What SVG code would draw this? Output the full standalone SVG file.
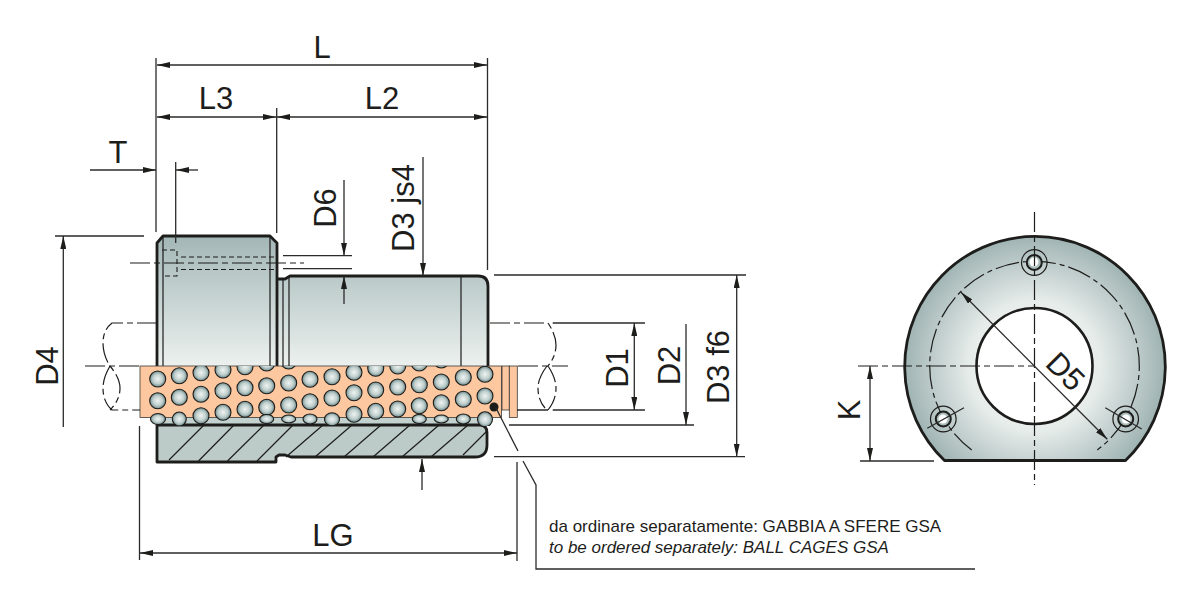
<svg xmlns="http://www.w3.org/2000/svg" width="1200" height="589" viewBox="0 0 1200 589">
<style>
.o{fill:none;stroke:#1d1d1b;stroke-width:2.8;stroke-linejoin:round}
.t{fill:none;stroke:#1d1d1b;stroke-width:1.2}
.d{fill:none;stroke:#2b2b2a;stroke-width:1.3}
.c{fill:none;stroke:#1d1d1b;stroke-width:1.2;stroke-dasharray:20 4 6 4}
.v{fill:none;stroke:#1d1d1b;stroke-width:1.2;stroke-dasharray:24 4 5 4}
.h{fill:none;stroke:#1d1d1b;stroke-width:1.1;stroke-dasharray:5 3}
.b{fill:url(#ball);stroke:#1d1d1b;stroke-width:1.1}
.q{fill:#fdc79f;stroke:#3a3a38;stroke-width:.8}
.r{fill:none;stroke:#1d1d1b;stroke-width:1.2}
.s{fill:none;stroke:#1d1d1b;stroke-width:2}
text{font-family:"Liberation Sans",Arial,sans-serif;fill:#1d1d1b}
.l{font-size:31px}
.n{font-size:17px}
</style>
<defs>
<linearGradient id="body" x1="0" y1="0" x2="0" y2="1"><stop offset="0" stop-color="#a3b7b6"/><stop offset="1" stop-color="#ecf1ef"/></linearGradient>
<radialGradient id="disc" gradientUnits="userSpaceOnUse" cx="1034.500" cy="366" r="131"><stop offset="0" stop-color="#ffffff"/><stop offset="0.5" stop-color="#e6ecea"/><stop offset="1" stop-color="#9fb3b3"/></radialGradient>
<radialGradient id="ball" cx="0.5" cy="0.5" r="0.5"><stop offset="0" stop-color="#f0f4f2"/><stop offset="0.6" stop-color="#bfcfcd"/><stop offset="1" stop-color="#6f8a8b"/></radialGradient>
<clipPath id="cage"><rect x="140" y="366" width="362" height="60"/></clipPath>
<marker id="a" markerWidth="13" markerHeight="6" refX="13" refY="3" orient="auto-start-reverse" markerUnits="userSpaceOnUse"><path d="M0 0L13 3L0 6z" fill="#1d1d1b"/></marker>
</defs>

<g id="bush-body">
<path d="M157 366V243L163 236H270L277 243V279H285L290 276H478Q488 276 488 286V366Z" fill="url(#body)"/>
<path class="o" d="M157 366V243L163 236H270L277 243V366M277 279H285L290 276H478Q488 276 488 286V366"/>
<path class="t" d="M163 236V366M270 236V366M283 279V366M289 277V366M461 276V366"/>
<path class="h" d="M162 250H177V276H162M181 257H276M181 269.500H276"/>
</g>

<g id="flange-base">
<rect x="157" y="417" width="332" height="8" fill="#c3d2cf"/>
<path d="M157 425H480Q487 425 487 433V445Q487 457 475 457H291L285 455H279L276 457V462H157Z" fill="#bccbc8"/>
<path class="t" d="M169 460L204 425M198.500 461L234 425M227.500 461L264 425M257 461L293 425M286 457L323 425M315 457L352 425M344 457L381 425M373 457L410 425M402 457L439 425M431 457L468 425M463 455L487 431"/>
<path class="o" d="M157 425H480Q487 425 487 433V445Q487 457 475 457H291L285 455H279L276 457V462H157Z"/>
</g>

<g id="ball-cage">
<rect class="q" x="140" y="366" width="361.500" height="51.500"/>
<rect class="q" x="502" y="366" width="7.300" height="44"/>
<rect class="q" x="509.300" y="366" width="8" height="51.500"/>
<g clip-path="url(#cage)">
<ellipse class="b" cx="158" cy="419" rx="7.500" ry="5.500"/><circle class="b" cx="179.300" cy="419" r="7"/><circle class="b" cx="201" cy="415.700" r="8"/><circle class="b" cx="223" cy="412.300" r="8"/><circle class="b" cx="245" cy="409.300" r="8"/><circle class="b" cx="266.700" cy="407.300" r="8"/><circle class="b" cx="288.700" cy="405" r="8"/><circle class="b" cx="310" cy="401.700" r="8"/><circle class="b" cx="332" cy="398" r="8"/><circle class="b" cx="354" cy="392.700" r="8"/><circle class="b" cx="375.700" cy="390" r="8"/><circle class="b" cx="397.700" cy="387" r="8"/><circle class="b" cx="419.300" cy="384.700" r="8"/><circle class="b" cx="441.300" cy="382" r="8"/><circle class="b" cx="463.300" cy="377.300" r="8"/><circle class="b" cx="485" cy="374.300" r="8"/>
<circle class="b" cx="157.700" cy="400.700" r="8"/><circle class="b" cx="179.300" cy="397.300" r="8"/><circle class="b" cx="201" cy="394.300" r="8"/><circle class="b" cx="223" cy="390.700" r="8"/><circle class="b" cx="245" cy="387.700" r="8"/><circle class="b" cx="266.700" cy="385.700" r="8"/><circle class="b" cx="288.700" cy="383" r="8"/><circle class="b" cx="310" cy="379.300" r="8"/><circle class="b" cx="332" cy="376.700" r="8"/><circle class="b" cx="354" cy="372.300" r="8"/><circle class="b" cx="375.700" cy="368.300" r="8"/><circle class="b" cx="397.700" cy="366" r="8"/><circle class="b" cx="419.300" cy="363" r="8"/><circle class="b" cx="441.300" cy="360" r="8"/>
<circle class="b" cx="485" cy="396" r="8"/><circle class="b" cx="463.300" cy="399.300" r="8"/><circle class="b" cx="441.300" cy="402.700" r="8"/><circle class="b" cx="419.300" cy="405.700" r="8"/><circle class="b" cx="397.700" cy="409" r="8"/><circle class="b" cx="375.700" cy="411.300" r="8"/><circle class="b" cx="354" cy="414.300" r="8"/>
<circle class="b" cx="157.700" cy="379" r="8"/><circle class="b" cx="179.300" cy="375.700" r="8"/><circle class="b" cx="201" cy="372.700" r="8"/><circle class="b" cx="223" cy="370" r="8"/><circle class="b" cx="245" cy="366.700" r="8"/><circle class="b" cx="266.700" cy="363" r="8"/><circle class="b" cx="288.700" cy="361" r="8"/>
<ellipse class="b" cx="266.700" cy="419" rx="7" ry="4.500"/><ellipse class="b" cx="288.700" cy="419" rx="7" ry="4"/><ellipse class="b" cx="310" cy="419" rx="7" ry="5"/><ellipse class="b" cx="332" cy="419.300" rx="7.500" ry="6.500"/><ellipse class="b" cx="419.300" cy="419" rx="7" ry="4.500"/><ellipse class="b" cx="441.300" cy="419" rx="7" ry="4"/><ellipse class="b" cx="463.300" cy="419" rx="7" ry="5"/><circle class="b" cx="485" cy="419.300" r="7.500"/>
</g>
<circle cx="494" cy="407" r="4.500" fill="#1d1d1b"/>
</g>

<g id="end-view">
<path d="M944.500 460.500A130.300 130.300 0 1 1 1125.500 460.500Z" fill="url(#disc)"/>
<path d="M944.500 460.500A130.300 130.300 0 1 1 1125.500 460.500Z" class="o"/>
<circle cx="1034.500" cy="366" r="58" fill="#fff" stroke="#1d1d1b" stroke-width="2.600"/>
<path class="v" d="M971.700 450A104.800 104.800 0 1 1 1097.300 450"/>
<g id="hole-top"><circle class="r" cx="1034.300" cy="262.500" r="12.800" fill="none"/><circle class="s" cx="1034.300" cy="262.500" r="7.500" style="fill:#a8bbb9"/><circle cx="1034" cy="262" r="4.500" fill="#fff"/></g>
<g id="hole-left"><circle class="r" cx="943.300" cy="419" r="12.800"/><circle class="s" cx="943.300" cy="419" r="7.500" style="fill:#a8bbb9"/><circle cx="943" cy="419" r="4.500" fill="#fff"/></g>
<g id="hole-right"><circle class="r" cx="1125.700" cy="419" r="12.800"/><circle class="s" cx="1125.700" cy="419" r="7.500" style="fill:#a8bbb9"/><circle cx="1126" cy="419" r="4.500" fill="#fff"/></g>
<path class="d" d="M927.300 428.300L964 407.700M1105.300 407.700L1141.700 429"/>
</g>

<g id="connectors">
<path class="d" d="M156 58V232M276.700 108V233M487.500 58V270M175.700 162V243M55 236H144"/>
<path class="d" marker-start="url(#a)" marker-end="url(#a)" d="M157 65H487"/>
<path class="d" marker-start="url(#a)" marker-end="url(#a)" d="M157 117H276"/>
<path class="d" marker-start="url(#a)" marker-end="url(#a)" d="M277 117H487"/>
<path class="d" marker-end="url(#a)" d="M90 170H156"/>
<path class="d" marker-end="url(#a)" d="M198 170H176"/>
<path class="d" marker-end="url(#a)" d="M63.300 427V236"/>
<path class="d" marker-end="url(#a)" d="M344 180V255.700"/>
<path class="d" marker-end="url(#a)" d="M344 304V276"/>
<path class="d" d="M283 255.700H352M283 268.700H352"/>
<path class="d" marker-end="url(#a)" d="M423 157V276"/>
<path class="d" marker-end="url(#a)" d="M422 490V459"/>
<path class="d" d="M494 275H746M494 456.700H745M509 425H694M517 410H548M552.700 410H645M552.700 323H645"/>
<path class="d" marker-start="url(#a)" marker-end="url(#a)" d="M736.700 275V456.700"/>
<path class="d" marker-start="url(#a)" marker-end="url(#a)" d="M634.300 323V410"/>
<path class="d" marker-end="url(#a)" d="M686 324V425"/>
<path class="d" d="M139.500 426V560M517 462V561"/>
<path class="d" marker-start="url(#a)" marker-end="url(#a)" d="M140 553H517"/>
<path class="d" d="M496 408L518 451M523 461L536 485V569H975"/>
<path class="c" d="M130 263H304"/>
<path class="c" d="M85 366H140M518 366H568"/>
<path class="c" d="M157 323H112Q103 330 103 343Q103 355 110 366Q120 378 120 388Q120 400 110 410"/>
<path class="c" d="M110 366Q103 378 103 388Q103 402 112 410H140"/>
<path class="c" d="M490 323H548Q556 335 556 345Q556 356 548 366Q556 378 556 388Q556 400 548 410"/>
<path class="c" d="M547 366Q538 378 538 388Q538 400 545 408"/>
<path class="c" d="M858 366H1034.500"/>
<path class="c" d="M1034.500 212V485"/>
<path class="d" d="M860 461H934"/>
<path class="d" marker-start="url(#a)" marker-end="url(#a)" d="M870 366V461"/>
<path class="d" marker-start="url(#a)" marker-end="url(#a)" d="M961 292.300L1107.300 439.300"/>
</g>

<g id="labels">
<text class="l" x="322" y="58" text-anchor="middle">L</text>
<text class="l" x="216" y="109" text-anchor="middle">L3</text>
<text class="l" x="382" y="109" text-anchor="middle">L2</text>
<text class="l" x="118" y="163" text-anchor="middle">T</text>
<text class="l" text-anchor="middle" transform="translate(58 366) rotate(-90)">D4</text>
<text class="l" text-anchor="middle" transform="translate(336 208) rotate(-90)">D6</text>
<text class="l" text-anchor="middle" transform="translate(414 208) rotate(-90)">D3 js4</text>
<text class="l" text-anchor="middle" transform="translate(628 368) rotate(-90)">D1</text>
<text class="l" text-anchor="middle" transform="translate(680 365.500) rotate(-90)">D2</text>
<text class="l" text-anchor="middle" transform="translate(729 367) rotate(-90)">D3 f6</text>
<text class="l" text-anchor="middle" transform="translate(860 410) rotate(-90)">K</text>
<text class="l" text-anchor="middle" transform="translate(1058 379) rotate(45)">D5</text>
<text class="l" x="333" y="546" text-anchor="middle">LG</text>
<text class="n" x="549" y="532">da ordinare separatamente: GABBIA A SFERE GSA</text>
<text class="n" x="549" y="553" font-style="italic">to be ordered separately: BALL CAGES GSA</text>
</g>
</svg>
